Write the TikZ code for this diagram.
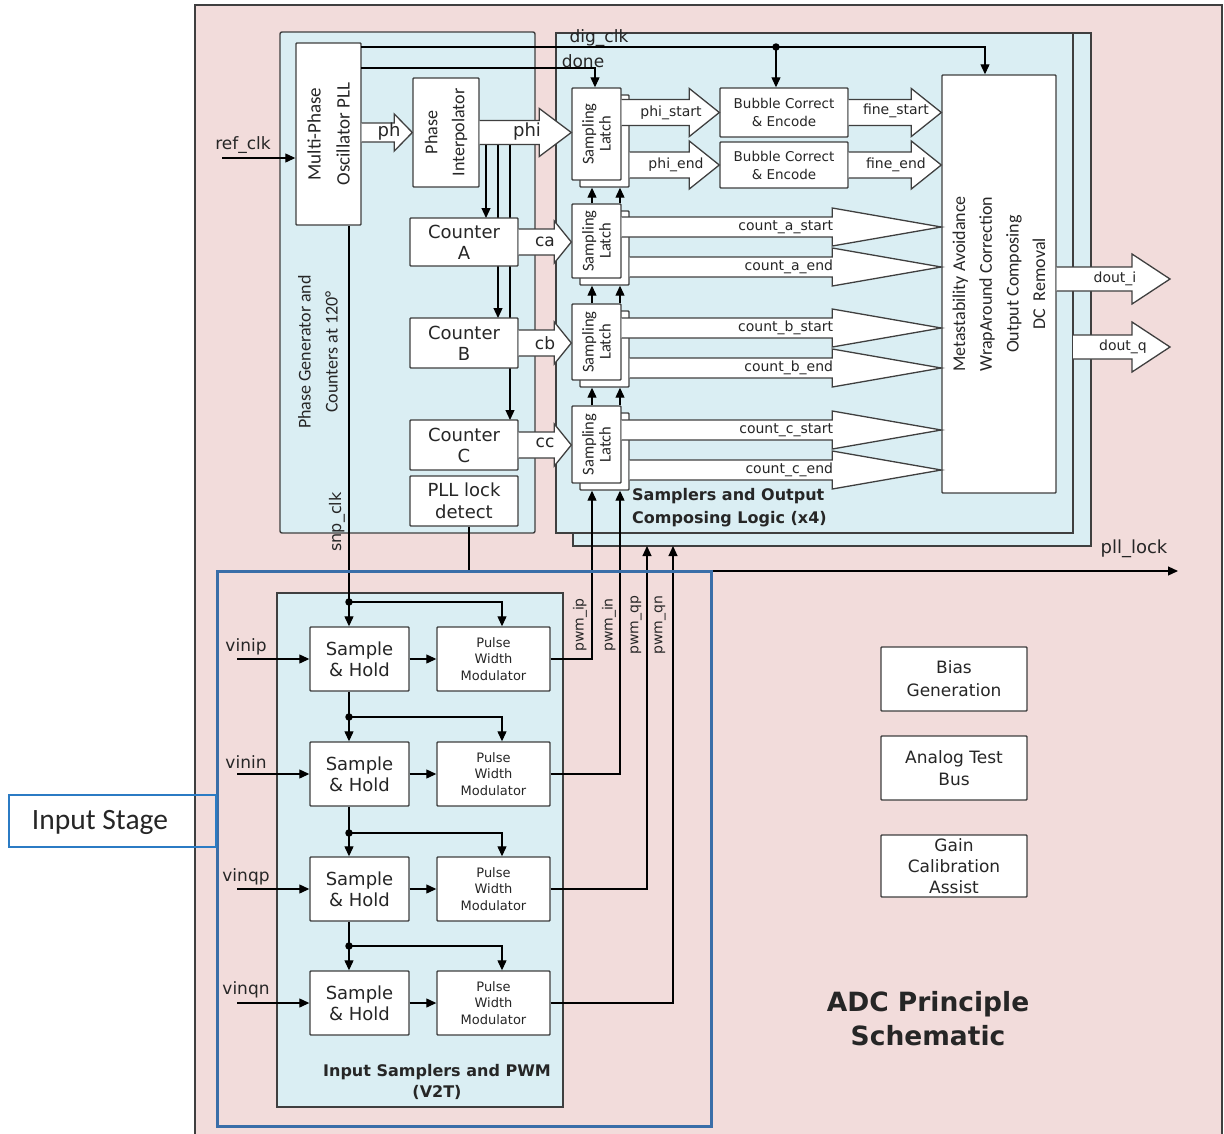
\documentclass[tikz,border=0pt]{standalone}
\usepackage{fontspec}
\setmainfont{DejaVu Sans}
\newfontfamily\calib{Carlito}
\usetikzlibrary{arrows.meta,calc}

\definecolor{pinkbg}{HTML}{F2DCDB}
\definecolor{bluebg}{HTML}{DAEEF3}
\definecolor{edge}{HTML}{3F3F3F}
\definecolor{stageblue}{HTML}{3A6EA8}
\definecolor{labelblue}{HTML}{2B7BC4}
\definecolor{ink}{HTML}{262626}

\newcommand\fs[2]{\fontsize{#1}{#2}\selectfont}
% wide outline arrow: start, target (x only), body half-height, head half-height, head length
\newcommand\fatarrow[5]{%
  \draw[fat] ($(#1)+(0,-#3)$) -- ($(#2|-#1)+(-#5,-#3)$) -- ($(#2|-#1)+(-#5,-#4)$) -- (#2|-#1)
    -- ($(#2|-#1)+(-#5,#4)$) -- ($(#2|-#1)+(-#5,#3)$) -- ($(#1)+(0,#3)$);}

\begin{document}
\begin{tikzpicture}[x=1pt,y=-1pt,
  box/.style={draw=edge, line width=1.4pt, fill=white, inner sep=0pt, align=center, text=ink, rounded corners=0.8pt},
  panel/.style={draw=edge, line width=1.4pt, fill=bluebg},
  wire/.style={draw=black, line width=1.2pt},
  arr/.style={wire, -{Triangle[length=10pt,width=9pt]}},
  fat/.style={draw=edge, line width=1.3pt, fill=white, line join=miter},
  dot/.style={circle, fill=black, inner sep=0pt, minimum size=7.5pt},
  lbl/.style={text=ink, inner sep=0pt},
  latchtext/.style={lbl, rotate=90, align=center, font=\calib\fs{16.5}{17}},
]
\useasboundingbox (0,0) rectangle (1224,1133);
\fill[white] (0,0) rectangle (1224,1133);
\draw[draw=edge, line width=1.4pt, fill=pinkbg] (195,5) rectangle (1222,1140);

% container panels
\draw[panel, rounded corners=2pt] (280,32) rectangle (535,533);
\draw[panel] (573,33) rectangle (1091,546);
\draw[panel] (556,33) rectangle (1073,533);
\draw[panel] (277,593) rectangle (563,1107);

% clock taps from the interpolator output (run behind the counters)
\coordinate (tapA) at (486,145);
\coordinate (tapB) at (498,145);
\coordinate (tapC) at (510,145);
\draw[arr] (tapA) -- (486,218);
\draw[arr] (tapB) -- (498,318);
\draw[arr] (tapC) -- (510,420);

% phase generator blocks
\node[box, minimum width=65pt, minimum height=182pt] (pll) at (328.5,134) {};
\node[lbl, rotate=90, align=center, font=\calib\fs{19}{29}] (pllT) at (pll.center) {Multi-Phase\\Oscillator PLL};
\node[box, minimum width=66pt, minimum height=109pt] (pi) at (446,132.5) {};
\node[lbl, rotate=90, align=center, font=\calib\fs{18}{27}] (piT) at (pi.center) {Phase\\Interpolator};
\node[box, minimum width=108pt, minimum height=48pt, font=\fs{18}{21}] (ctrA) at (464,242) {Counter\\A};
\node[box, minimum width=108pt, minimum height=50pt, font=\fs{18}{21}] (ctrB) at (464,343) {Counter\\B};
\node[box, minimum width=108pt, minimum height=50pt, font=\fs{18}{21}] (ctrC) at (464,445) {Counter\\C};
\node[box, minimum width=108pt, minimum height=50pt, font=\fs{18}{22}] (plld) at (464,501) {PLL lock\\detect};
\node[lbl, rotate=90, align=center, font=\calib\fs{18}{27}] (pgT) at (318,352) {Phase Generator and\\Counters at 120°};

% sampling latches (front and shadow copies)
\node[box, minimum width=49pt, minimum height=92pt] (L1b) at (604.5,141) {};
\node[box, minimum width=49pt, minimum height=92pt] (L1) at (596.5,134) {};
\node[latchtext] (L1T) at (L1.center) {Sampling\\Latch};
\node[box, minimum width=49pt, minimum height=74pt] (L2b) at (604.5,248) {};
\node[box, minimum width=49pt, minimum height=74pt] (L2) at (596.5,241) {};
\node[latchtext] (L2T) at (L2.center) {Sampling\\Latch};
\node[box, minimum width=49pt, minimum height=76pt] (L3b) at (604.5,349) {};
\node[box, minimum width=49pt, minimum height=76pt] (L3) at (596.5,342) {};
\node[latchtext] (L3T) at (L3.center) {Sampling\\Latch};
\node[box, minimum width=49pt, minimum height=77pt] (L4b) at (604.5,451.5) {};
\node[box, minimum width=49pt, minimum height=77pt] (L4) at (596.5,444.5) {};
\node[latchtext] (L4T) at (L4.center) {Sampling\\Latch};

% encoders and output composer
\node[box, minimum width=128pt, minimum height=49pt, font=\fs{13.5}{18}] (bub1) at (784,112.5) {Bubble Correct\\\& Encode};
\node[box, minimum width=128pt, minimum height=46pt, font=\fs{13.5}{18}] (bub2) at (784,165) {Bubble Correct\\\& Encode};
\node[box, minimum width=114pt, minimum height=418pt] (meta) at (999,284) {};
\node[lbl, rotate=90, align=center, font=\calib\fs{18}{26.7}] (metaT) at (meta.center) {Metastability Avoidance\\WrapAround Correction\\Output Composing\\DC\ \ Removal};

% input samplers and pulse width modulators
\node[box, minimum width=99pt, minimum height=64pt, font=\fs{18}{21}] (sh1) at (359.5,659) {Sample\\\& Hold};
\node[box, minimum width=99pt, minimum height=64pt, font=\fs{18}{21}] (sh2) at (359.5,774) {Sample\\\& Hold};
\node[box, minimum width=99pt, minimum height=64pt, font=\fs{18}{21}] (sh3) at (359.5,889) {Sample\\\& Hold};
\node[box, minimum width=99pt, minimum height=64pt, font=\fs{18}{21}] (sh4) at (359.5,1003) {Sample\\\& Hold};
\node[box, minimum width=113pt, minimum height=64pt, font=\fs{13}{16.5}] (pwm1) at (493.5,659) {Pulse\\Width\\Modulator};
\node[box, minimum width=113pt, minimum height=64pt, font=\fs{13}{16.5}] (pwm2) at (493.5,774) {Pulse\\Width\\Modulator};
\node[box, minimum width=113pt, minimum height=64pt, font=\fs{13}{16.5}] (pwm3) at (493.5,889) {Pulse\\Width\\Modulator};
\node[box, minimum width=113pt, minimum height=64pt, font=\fs{13}{16.5}] (pwm4) at (493.5,1003) {Pulse\\Width\\Modulator};

% support blocks
\node[box, minimum width=146pt, minimum height=64pt, font=\fs{17}{23}] (bias) at (954,679) {Bias\\Generation};
\node[box, minimum width=146pt, minimum height=64pt, font=\fs{17}{22}] (atb) at (954,768) {Analog Test\\Bus};
\node[box, minimum width=146pt, minimum height=62pt, font=\fs{17}{21}] (gca) at (954,866) {Gain\\Calibration\\Assist};

% wide data arrows
\coordinate (phs) at (pll.east |- pi.west);
\fatarrow{phs}{pi.west}{9.5}{18.5}{18}
\fatarrow{pi.east}{L1.west}{12}{24}{32}
\fatarrow{ctrA.east}{L2.west}{13}{21}{17}
\fatarrow{ctrB.east}{L3.west}{13}{21}{17}
\fatarrow{ctrC.east}{L4.west}{13}{21}{17}
\coordinate (pss) at (L1.east |- bub1.west);
\coordinate (pes) at (L1b.east |- bub2.west);
\fatarrow{pss}{bub1.west}{13}{24}{30}
\fatarrow{pes}{bub2.west}{13}{24}{30}
\fatarrow{bub1.east}{meta.west}{13}{24}{30}
\fatarrow{bub2.east}{meta.west}{13}{24}{30}
\coordinate (cas) at ($(L2.east)+(0,-14)$);
\coordinate (cae) at ($(L2b.east)+(0,19)$);
\coordinate (cbs) at ($(L3.east)+(0,-14)$);
\coordinate (cbe) at ($(L3b.east)+(0,19)$);
\coordinate (ccs) at ($(L4.east)+(0,-14.5)$);
\coordinate (cce) at ($(L4b.east)+(0,18.5)$);
\fatarrow{cas}{meta.west}{10}{19}{109}
\fatarrow{cae}{meta.west}{10}{19}{109}
\fatarrow{cbs}{meta.west}{10}{19}{109}
\fatarrow{cbe}{meta.west}{10}{19}{109}
\fatarrow{ccs}{meta.west}{10}{19}{109}
\fatarrow{cce}{meta.west}{10}{19}{109}
\coordinate (dtip) at (1170,279);
\coordinate (dis) at ($(meta.east)+(0,-5)$);
\coordinate (dqs) at (1073,347);
\fatarrow{dis}{dtip}{12}{25}{38}
\fatarrow{dqs}{dtip}{12}{25}{38}

% clock and control wires
\coordinate (refin) at (222,158);
\draw[arr] (refin) -- (refin -| pll.west);
\coordinate (dclk) at (361,47);
\coordinate (clkdrop) at (985,47);
\draw[arr] (dclk) -- (clkdrop) -- (clkdrop |- meta.north);
\node[dot] (clkdot) at (776,47) {};
\draw[arr] (clkdot.center) -- (clkdot.center |- bub1.north);
\coordinate (dn) at (361,68);
\coordinate (dnx) at (595,68);
\draw[arr] (dn) -- (dnx) -- (dnx |- L1.north);

% pwm timing wires into the latch stacks
\coordinate (ipx) at (592,0);
\coordinate (inx) at (620,0);
\draw[arr] (ipx |- L2.north) -- (ipx |- L1b.south);
\draw[arr] (inx |- L2.north) -- (inx |- L1b.south);
\draw[arr] (ipx |- L3.north) -- (ipx |- L2b.south);
\draw[arr] (inx |- L3.north) -- (inx |- L2b.south);
\draw[arr] (ipx |- L4.north) -- (ipx |- L3b.south);
\draw[arr] (inx |- L4.north) -- (inx |- L3b.south);
\draw[arr] (pwm1.east) -| (ipx |- L4b.south);
\draw[arr] (pwm2.east) -| (inx |- L4b.south);
\coordinate (qpx) at (647,546);
\coordinate (qnx) at (673,546);
\draw[arr] (pwm3.east) -| (qpx);
\draw[arr] (pwm4.east) -| (qnx);

% sample clock chain
\coordinate (xclk) at (349,0);
\coordinate (xpw) at (502,0);
\node[dot] (j1) at (349,602) {};
\node[dot] (j2) at (349,717) {};
\node[dot] (j3) at (349,833) {};
\node[dot] (j4) at (349,946) {};
\draw[arr] (pll.south -| xclk) -- (xclk |- sh1.north);
\draw[arr] (xclk |- sh1.south) -- (xclk |- sh2.north);
\draw[arr] (xclk |- sh2.south) -- (xclk |- sh3.north);
\draw[arr] (xclk |- sh3.south) -- (xclk |- sh4.north);
\draw[arr] (j1.center) -| (xpw |- pwm1.north);
\draw[arr] (j2.center) -| (xpw |- pwm2.north);
\draw[arr] (j3.center) -| (xpw |- pwm3.north);
\draw[arr] (j4.center) -| (xpw |- pwm4.north);

% analog inputs
\coordinate (vin) at (237,0);
\draw[arr] (vin |- sh1.west) -- (sh1.west);
\draw[arr] (vin |- sh2.west) -- (sh2.west);
\draw[arr] (vin |- sh3.west) -- (sh3.west);
\draw[arr] (vin |- sh4.west) -- (sh4.west);
\draw[arr] (sh1.east) -- (pwm1.west);
\draw[arr] (sh2.east) -- (pwm2.west);
\draw[arr] (sh3.east) -- (pwm3.west);
\draw[arr] (sh4.east) -- (pwm4.west);

% lock indicator output
\coordinate (lockx) at (469,0);
\coordinate (lockend) at (1178,571);
\draw[arr] (plld.south -| lockx) |- (lockend);

% input stage outline and tag
\draw[draw=stageblue, line width=3pt] (217,571) rectangle (711,1126);
\node[draw=labelblue, line width=2pt, minimum width=207pt, minimum height=52pt, inner sep=0pt] (stageT) at (112.5,821) {};
\node[lbl, font=\calib\fs{29.5}{29.5}] (stageL) at (100,822) {Input Stage};

% signal names
\node[lbl, font=\fs{17}{17}] (refT) at (243,145) {ref\_clk};
\node[lbl, font=\fs{18}{18}] (phT) at (389,132) {ph};
\node[lbl, font=\fs{18}{18}] (phiT) at (527,132) {phi};
\node[lbl, font=\fs{17}{17}] (caT) at (545,242) {ca};
\node[lbl, font=\fs{17}{17}] (cbT) at (545,343) {cb};
\node[lbl, font=\fs{17}{17}] (ccT) at (545,443) {cc};
\node[lbl, font=\fs{17}{17}] (clkT) at (599,38) {dig\_clk};
\node[lbl, font=\fs{17}{17}] (doneT) at (583,61) {done};
\node[lbl, font=\fs{14}{14}] (psT) at (671,113) {phi\_start};
\node[lbl, font=\fs{14}{14}] (peT) at (676,165) {phi\_end};
\node[lbl, font=\fs{14}{14}] (fsT) at (896,111) {fine\_start};
\node[lbl, font=\fs{14}{14}] (feT) at (896,165) {fine\_end};
\node[lbl, font=\fs{14}{14}, anchor=east] (casT) at ($(cas -| meta.west)+(-108,0)$) {count\_a\_start};
\node[lbl, font=\fs{14}{14}, anchor=east] (caeT) at ($(cae -| meta.west)+(-108,0)$) {count\_a\_end};
\node[lbl, font=\fs{14}{14}, anchor=east] (cbsT) at ($(cbs -| meta.west)+(-108,0)$) {count\_b\_start};
\node[lbl, font=\fs{14}{14}, anchor=east] (cbeT) at ($(cbe -| meta.west)+(-108,0)$) {count\_b\_end};
\node[lbl, font=\fs{14}{14}, anchor=east] (ccsT) at ($(ccs -| meta.west)+(-108,0)$) {count\_c\_start};
\node[lbl, font=\fs{14}{14}, anchor=east] (cceT) at ($(cce -| meta.west)+(-108,0)$) {count\_c\_end};
\node[lbl, font=\fs{14}{14}] (diT) at (1115,279) {dout\_i};
\node[lbl, font=\fs{14}{14}] (dqT) at (1123,347) {dout\_q};
\node[lbl, font=\fs{18}{18}] (lockT) at (1134,549) {pll\_lock};
\node[lbl, font=\fs{16}{16}, rotate=90] (snpT) at (337,522) {snp\_clk};
\node[lbl, font=\fs{17}{17}] (v1T) at (246,647) {vinip};
\node[lbl, font=\fs{17}{17}] (v2T) at (246,762) {vinin};
\node[lbl, font=\fs{17}{17}] (v3T) at (246,877) {vinqp};
\node[lbl, font=\fs{17}{17}] (v4T) at (246,990) {vinqn};
\node[lbl, font=\fs{14}{14}, rotate=90] (p1T) at (580,625) {pwm\_ip};
\node[lbl, font=\fs{14}{14}, rotate=90] (p2T) at (609,625) {pwm\_in};
\node[lbl, font=\fs{14}{14}, rotate=90] (p3T) at (636,625) {pwm\_qp};
\node[lbl, font=\fs{14}{14}, rotate=90] (p4T) at (660,625) {pwm\_qn};

% block titles
\node[lbl, anchor=west, align=left, font=\bfseries\fs{16}{23}] (sampT) at (632,508) {Samplers and Output\\Composing Logic (x4)};
\node[lbl, align=center, font=\bfseries\fs{16}{21}] (inT) at (437,1082) {Input Samplers and PWM\\(V2T)};
\node[lbl, align=center, font=\bfseries\fs{26.5}{34}] (adcT) at (928,1019) {ADC Principle\\Schematic};
\end{tikzpicture}
\end{document}
